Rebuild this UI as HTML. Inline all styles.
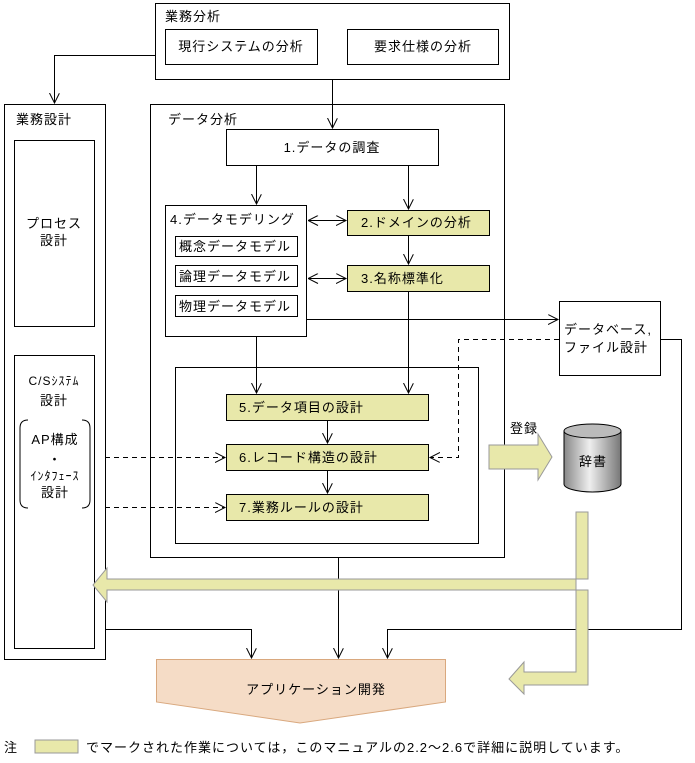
<!DOCTYPE html>
<html><head><meta charset="utf-8"><style>
html,body{margin:0;padding:0;background:#fff}
svg{display:block}
text{font-family:"Liberation Sans","Noto Sans CJK JP",sans-serif;font-size:13px;fill:#000;letter-spacing:1px}
</style></head><body>
<svg width="695" height="763" viewBox="0 0 695 763" xmlns="http://www.w3.org/2000/svg">
<defs>
<linearGradient id="cyl" x1="0" x2="1" y1="0" y2="0">
<stop offset="0" stop-color="#888"/><stop offset="0.45" stop-color="#eee"/><stop offset="1" stop-color="#777"/>
</linearGradient>
<marker id="v" markerWidth="12" markerHeight="12" refX="10" refY="5" orient="auto" markerUnits="userSpaceOnUse">
<path d="M0,0 L10,5 L0,10" fill="none" stroke="#000" stroke-width="1"/>
</marker>
<marker id="vs" markerWidth="12" markerHeight="12" refX="0" refY="5" orient="auto" markerUnits="userSpaceOnUse">
<path d="M10,0 L0,5 L10,10" fill="none" stroke="#000" stroke-width="1"/>
</marker>
</defs>
<g fill="none" stroke="#000" stroke-width="1">
<rect x="155.5" y="3.5" width="354" height="76" fill="#fff"/>
<rect x="165.5" y="29.5" width="152" height="35"/>
<rect x="347.5" y="29.5" width="151" height="35"/>
<rect x="4.5" y="104.5" width="101" height="555"/>
<rect x="14.5" y="140.5" width="80" height="186"/>
<rect x="14.5" y="355.5" width="80" height="293"/>
<rect x="150.5" y="104.5" width="354" height="453"/>
<rect x="226.5" y="129.5" width="212" height="36"/>
<rect x="165.5" y="205.5" width="141" height="131"/>
<rect x="175.5" y="236.5" width="122" height="20"/>
<rect x="175.5" y="265.5" width="122" height="21"/>
<rect x="175.5" y="295.5" width="122" height="21"/>
<rect x="347.5" y="210.5" width="142" height="25" fill="#e8e8aa"/>
<rect x="347.5" y="265.5" width="142" height="26" fill="#e8e8aa"/>
<rect x="175.5" y="367.5" width="303" height="176"/>
<rect x="226.5" y="394.5" width="202" height="26" fill="#e8e8aa"/>
<rect x="226.5" y="444.5" width="202" height="26" fill="#e8e8aa"/>
<rect x="226.5" y="494.5" width="202" height="26" fill="#e8e8aa"/>
<rect x="559.5" y="301.5" width="101" height="74" fill="#fff"/>
<path d="M155,55.5 H54.5 V103" marker-end="url(#v)"/>
<path d="M332.5,79 V128" marker-end="url(#v)"/>
<path d="M256.5,165 V204" marker-end="url(#v)"/>
<path d="M408.5,165 V209" marker-end="url(#v)"/>
<path d="M408.5,235 V264" marker-end="url(#v)"/>
<path d="M308,220.5 H346" marker-start="url(#vs)" marker-end="url(#v)"/>
<path d="M308,278.5 H346" marker-start="url(#vs)" marker-end="url(#v)"/>
<path d="M256.5,336 V393" marker-end="url(#v)"/>
<path d="M408.5,291 V393" marker-end="url(#v)"/>
<path d="M327.5,420 V443" marker-end="url(#v)"/>
<path d="M327.5,470 V493" marker-end="url(#v)"/>
<path d="M306,319.5 H558" marker-end="url(#v)"/>
<path d="M559,339.5 H458.5 V457.5 H430" stroke-dasharray="5,4" marker-end="url(#v)"/>
<path d="M105,457.5 H225" stroke-dasharray="5,4" marker-end="url(#v)"/>
<path d="M105,507.5 H225" stroke-dasharray="5,4" marker-end="url(#v)"/>
<path d="M660,339.5 H681.5 V629.5 H387.5 V658" marker-end="url(#v)"/>
<path d="M338.5,557 V658" marker-end="url(#v)"/>
<path d="M105,629.5 H251.5 V658" marker-end="url(#v)"/>
<path d="M28,420 Q20,420 20,428 V500 Q20,508 28,508"/>
<path d="M82,420 Q90,420 90,428 V500 Q90,508 82,508"/>
</g>
<g fill="#e8e8aa" stroke="#999" stroke-width="1">
<path d="M588,512 V579 H107 V568 L93,585 L107,602 V590 H576 V512 Z"/>
<path d="M576,590 V672 H524 V662 L509,679 L524,694 V685 H588 V590 Z"/>
<path d="M489,445 H538 V434 L552,457 L538,480 V469 H489 Z"/>
</g>
<path d="M564,431 V484 A28.5,8 0 0 0 621,484 V431" fill="url(#cyl)" stroke="#000"/>
<ellipse cx="592.5" cy="431" rx="28.5" ry="7" fill="#bbb" stroke="#000"/>
<path d="M156.5,659.5 H445.5 V702 L300,723 L156.5,702 Z" fill="#f5dcc6" stroke="#d9a87e"/>
<rect x="35" y="740" width="43" height="13" fill="#e8e8aa" stroke="#999"/>
<text x="165" y="21">業務分析</text>
<text x="241" y="51" text-anchor="middle">現行システムの分析</text>
<text x="423" y="51" text-anchor="middle">要求仕様の分析</text>
<text x="16" y="124">業務設計</text>
<text x="168" y="124">データ分析</text>
<text x="54" y="228" text-anchor="middle">プロセス</text>
<text x="54" y="245" text-anchor="middle">設計</text>
<text x="54" y="385" text-anchor="middle" style="font-size:12px">C/Sｼｽﾃﾑ</text>
<text x="54" y="405" text-anchor="middle">設計</text>
<text x="55" y="444" text-anchor="middle">AP構成</text>
<text x="55" y="464" text-anchor="middle">・</text>
<text x="55" y="480" text-anchor="middle" style="font-size:12px">ｲﾝﾀﾌｪｰｽ</text>
<text x="55" y="497" text-anchor="middle">設計</text>
<text x="332" y="152" text-anchor="middle">1.データの調査</text>
<text x="170" y="224">4.データモデリング</text>
<text x="179" y="251">概念データモデル</text>
<text x="179" y="281">論理データモデル</text>
<text x="179" y="311">物理データモデル</text>
<text x="361" y="227">2.ドメインの分析</text>
<text x="361" y="283">3.名称標準化</text>
<text x="239" y="412">5.データ項目の設計</text>
<text x="239" y="462">6.レコード構造の設計</text>
<text x="239" y="512">7.業務ルールの設計</text>
<text x="564" y="334">データベース,</text>
<text x="564" y="352">ファイル設計</text>
<text x="510" y="433">登録</text>
<text x="593" y="466" text-anchor="middle">辞書</text>
<text x="316" y="694" text-anchor="middle">アプリケーション開発</text>
<text x="4" y="752">注</text>
<text x="86" y="752">でマークされた作業については，このマニュアルの2.2～2.6で詳細に説明しています。</text>
</svg>
</body></html>
